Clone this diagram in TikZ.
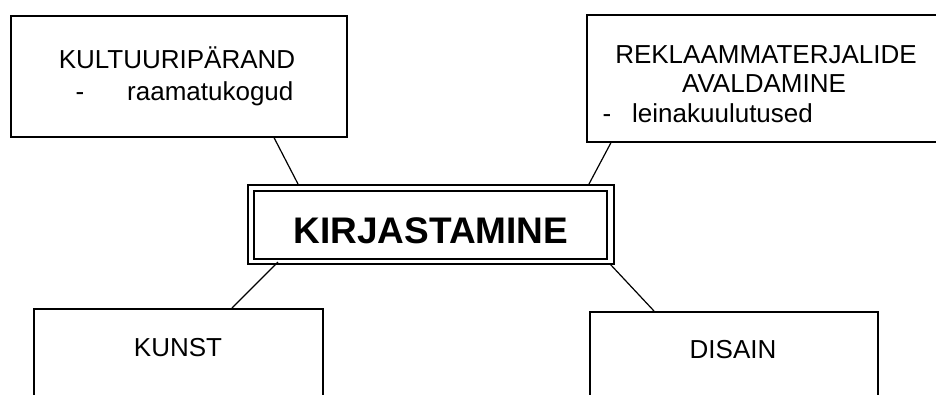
\documentclass[tikz,border=0pt]{standalone}
\usepackage{fontspec}
\setmainfont{Liberation Sans}
\begin{document}
\begin{tikzpicture}[x=1pt,y=-1pt,
  box/.style={draw=black,line width=1.6pt,rectangle,inner sep=0pt,anchor=north west},
  dbl/.style={draw=black,line width=2pt,rectangle,inner sep=0pt,anchor=north west},
  conn/.style={draw=black,line width=1.2pt},
  txt/.style={inner sep=0pt,font=\fontsize{26}{30}\selectfont},
  bigtxt/.style={inner sep=0pt,font=\fontsize{37}{42}\selectfont\bfseries}]
\useasboundingbox (0,0) rectangle (936,394);
\clip (0,0) rectangle (936,394);
\fill[white] (0,0) rectangle (936,394);
% boxes
\node[box,minimum width=336pt,minimum height=121pt] (b1) at (10,15) {};
\node[box,minimum width=359pt,minimum height=127pt] (b2) at (586,14) {};
\node[dbl,minimum width=366pt,minimum height=79pt] (ko) at (247,184) {};
\node[dbl,minimum width=353pt,minimum height=68pt] (ki) at (253,190) {};
\node[box,minimum width=289pt,minimum height=112pt] (b3) at (33,308) {};
\node[box,minimum width=288pt,minimum height=109pt] (b4) at (589,311) {};
% texts
\node[txt,anchor=base] (t1) at (177,68) {KULTUURIPÄRAND};
\node[txt,anchor=base] (t1d) at (80,100) {-};
\node[txt,anchor=base west] (t1b) at (127,100) {raamatukogud};
\node[txt,anchor=base] (t2) at (766,63) {REKLAAMMATERJALIDE};
\node[txt,anchor=base] (t2b) at (764,92) {AVALDAMINE};
\node[txt,anchor=base] (t2d) at (607,122) {-};
\node[txt,anchor=base west] (t2c) at (632,122) {leinakuulutused};
\node[bigtxt,anchor=base] (tc) at (431,243) {KIRJASTAMINE};
\node[txt,anchor=base] (t3) at (178,356) {KUNST};
\node[txt,anchor=base] (t4) at (733,358) {DISAIN};
% connectors
\draw[conn] ([xshift=264pt]b1.south west) -- ([xshift=51pt]ko.north west);
\draw[conn] ([xshift=25pt]b2.south west) -- ([xshift=-26pt]ko.north east);
\draw[conn] ([xshift=31pt,yshift=3pt]ko.south west) -- ([xshift=199pt]b3.north west);
\draw[conn] ([xshift=-5pt,yshift=1pt]ko.south east) -- ([xshift=65pt]b4.north west);
\end{tikzpicture}
\end{document}
